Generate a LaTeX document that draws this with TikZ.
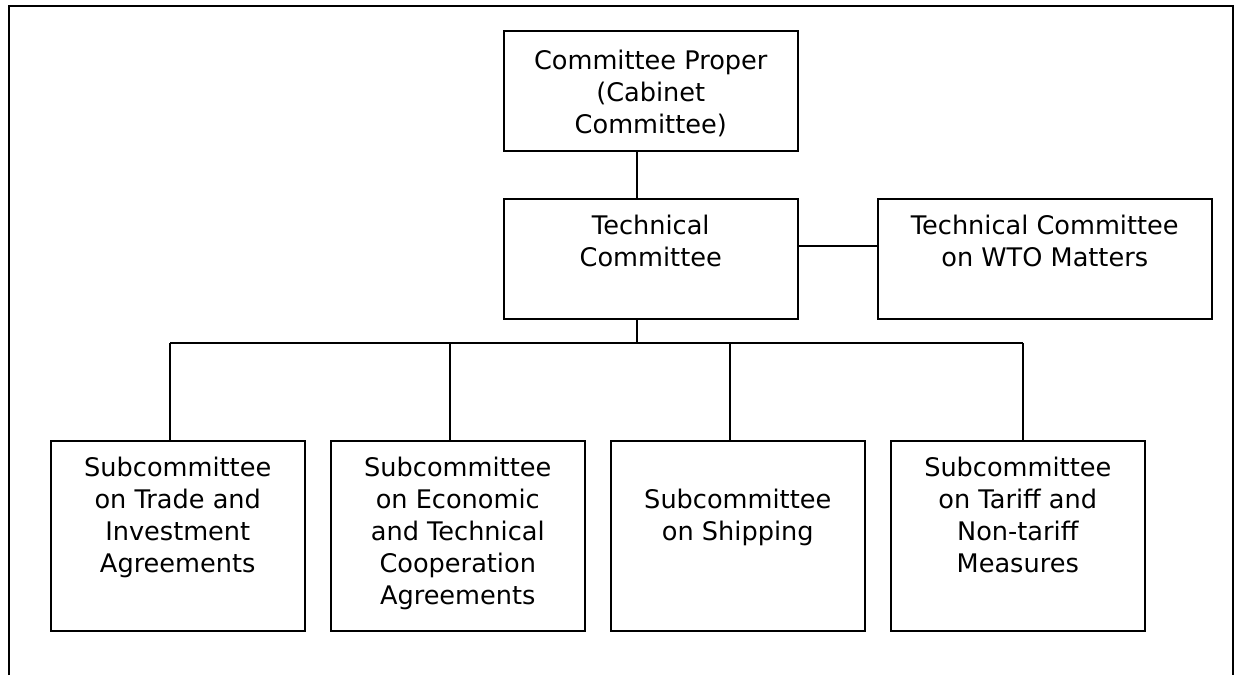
\documentclass[tikz,border=0pt]{standalone}
\usepackage{fontspec}
\setmainfont{DejaVu Sans}
\newcommand\boxtxt[4]{\parbox[c][#2][t]{#1}{\centering\rule{0pt}{#3}#4}}
\begin{document}
\begin{tikzpicture}[x=1pt,y=-1pt,
  box/.style={draw=black, line width=1.5pt, inner sep=0pt, anchor=north west,
    font=\fontsize{25.6}{32}\selectfont},
  conn/.style={draw=black, line width=1.5pt},
  frame/.style={draw=black, line width=1.8pt}]
\useasboundingbox (0,0) rectangle (1238,675);
\draw[frame] (9,675) -- (9,6) -- (1233,6) -- (1233,675);
\node[box] (cp) at (503,30) {\boxtxt{294pt}{120pt}{39pt}{Committee Proper\\(Cabinet\\Committee)}};
\node[box] (tc) at (503,198) {\boxtxt{294pt}{120pt}{36pt}{Technical\\Committee}};
\node[box] (wto) at (877,198) {\boxtxt{334pt}{120pt}{36pt}{Technical Committee\\on WTO Matters}};
\node[box] (s1) at (50,440) {\boxtxt{254pt}{190pt}{36pt}{Subcommittee\\on Trade and\\Investment\\Agreements}};
\node[box] (s2) at (330,440) {\boxtxt{254pt}{190pt}{36pt}{Subcommittee\\on Economic\\and Technical\\Cooperation\\Agreements}};
\node[box] (s3) at (610,440) {\boxtxt{254pt}{190pt}{68pt}{Subcommittee\\on Shipping}};
\node[box] (s4) at (890,440) {\boxtxt{254pt}{190pt}{36pt}{Subcommittee\\on Tariff and\\Non-tariff\\Measures}};
\coordinate (drop) at (637,343);
\coordinate (hl) at (0,246);
\coordinate (b1) at (170,343);
\coordinate (b2) at (450,343);
\coordinate (b3) at (730,343);
\coordinate (b4) at (1023,343);
\draw[conn] (cp.south -| drop) -- (tc.north -| drop);
\draw[conn] (tc.east |- hl) -- (wto.west |- hl);
\draw[conn] (tc.south -| drop) -- (drop);
\draw[conn] (b1) -- (b4);
\draw[conn] (b1) -- (s1.north -| b1);
\draw[conn] (b2) -- (s2.north -| b2);
\draw[conn] (b3) -- (s3.north -| b3);
\draw[conn] (b4) -- (s4.north -| b4);
\end{tikzpicture}
\end{document}
